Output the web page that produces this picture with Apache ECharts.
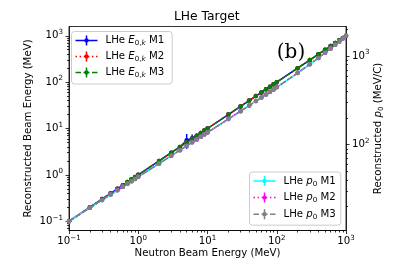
<!DOCTYPE html>
<html><head><meta charset="utf-8">
<script src="https://cdn.jsdelivr.net/npm/echarts@6/dist/echarts.min.js"></script>
<style>html,body{margin:0;padding:0;background:#fff}#c{width:407px;height:271px}</style>
</head><body><div id="c"></div>
<script>
// ---- data ----
const energies = [0.1,0.2,0.3,0.4,0.5,0.6,0.7,0.8,0.9,1,2,3,4,5,6,7,8,9,10,20,30,40,50,60,70,80,90,100,200,300,400,500,600,700,800,900,1000];
const eM1 = [0.1,0.2,0.3,0.4,0.5,0.6,0.7,0.8,0.9,1,2,3,4,5.6,6.2,7,8,9,10,20,30,40,50,60,70,80,90,100,200,300,400,500,600,700,800,900,1000];
const eM1Err = [0,0,0,0,0,0,0,0,0,0,0,0,0,2.0,1.2,0,0,0,0,0,0,0,0,0,0,0,0,0,0,0,0,0,0,0,0,0,0];
const eM2 = [0.1,0.2,0.3,0.4,0.5,0.6,0.7,0.8,0.9,1,2,3,4,5,6,7,8,9,10,20,30,40,50,60,70,80,90,100,200,300,400,500,600,700,800,900,1000];
const eM3 = [0.1,0.2,0.3,0.4,0.5,0.6,0.7,0.8,0.9,1,2,3,4,5,6,7,8,9,10,20,30,40,50,60,70,80,90,100,200,300,400,500,600,700,800,900,1000];
const pM1 = [13.7,19.4,23.7,27.4,30.6,33.5,36.2,38.7,41.1,43.3,61.2,75.0,86.7,96.9,106.2,114.7,122.7,130.2,137.3,194.6,239.0,276.7,310.2,340.7,368.9,395.4,420.4,444.3,644.1,807.6,953.7,1089.4,1218.2,1342.1,1462.3,1579.7,1694.8];
const pM2 = [13.7,19.4,23.8,27.4,30.7,33.6,36.3,38.8,41.1,43.4,61.3,75.1,86.8,97.1,106.4,114.9,122.9,130.4,137.5,194.9,239.3,277.1,310.6,341.1,369.4,395.9,421.0,444.9,644.9,808.5,954.8,1090.7,1219.6,1343.7,1464.0,1581.5,1696.8];
const pM3 = [13.7,19.4,23.8,27.4,30.7,33.6,36.3,38.8,41.1,43.4,61.3,75.1,86.8,97.1,106.4,114.9,122.9,130.4,137.5,194.9,239.3,277.1,310.6,341.1,369.4,395.9,421.0,444.9,644.9,808.5,954.8,1090.7,1219.6,1343.7,1464.0,1581.5,1696.8];
const xTickValues = [0.1,1,10,100,1000];
const yLeftTickValues = [0.1,1,10,100,1000];
const yRightTickValues = [100,1000];
// axis ranges (decade exponents)
const xRange = [-1, 3];
const yLeftRange = [-1.2, 3.2];
const yRightRange = [1.0324, 3.3342];

const L = Math.log10;
function minorTicks(range) {
  const out = [];
  for (let n = Math.floor(range[0]) - 1; n <= Math.ceil(range[1]); n++) {
    for (let k = 2; k <= 9; k++) {
      const v = L(k) + n;
      if (v > range[0] && v < range[1]) out.push(v);
    }
  }
  return out;
}
const FONT = 'DejaVu Sans';
const FS = 10.2;
const supRich = {
  b: {fontSize: FS, fontFamily: FONT, color: '#000', lineHeight: 14},
  s: {fontSize: 7.1, fontFamily: FONT, color: '#000', lineHeight: 7, padding: [0,0,7,0]}
};
function powLabel(v) {
  const e = Math.round(v);
  return '{b|10}{s|' + (e < 0 ? '\u2212' + (-e) : e) + '}';
}
const subRich = {
  t0: {fontSize: FS, fontFamily: FONT, color: '#000', lineHeight: 13, padding: [0,0,0,3]},
  t: {fontSize: FS, fontFamily: FONT, color: '#000', lineHeight: 13},
  i: {fontSize: FS, fontFamily: FONT, fontStyle: 'italic', color: '#000', lineHeight: 13},
  s: {fontSize: 7.1, fontFamily: FONT, color: '#000', lineHeight: 7, padding: [6,0,0,0]},
  si: {fontSize: 7.1, fontFamily: FONT, fontStyle: 'italic', color: '#000', lineHeight: 7, padding: [6,0,0,0]}
};
const legendText = {
  E1: '{t0|LHe }{i|E}{s|0,}{si|k}{t| M1}',
  E2: '{t0|LHe }{i|E}{s|0,}{si|k}{t| M2}',
  E3: '{t0|LHe }{i|E}{s|0,}{si|k}{t| M3}',
  P1: '{t0|LHe }{i|p}{s|0}{t| M1}',
  P2: '{t0|LHe }{i|p}{s|0}{t| M2}',
  P3: '{t0|LHe }{i|p}{s|0}{t| M3}'
};
const BAR = 'M10.25 1H11.75V11H10.25Z M8.8 6A2.2 2.2 0 1 1 13.2 6A2.2 2.2 0 1 1 8.8 6Z';
const ICON_SOLID = 'path://M0 5.25H22V6.75H0Z ' + BAR;
const ICON_DOT = 'path://M0 5.25h1.5v1.5h-1.5Z M4.1 5.25h1.5v1.5h-1.5Z M8.2 5.25h1.5v1.5h-1.5Z M12.3 5.25h1.5v1.5h-1.5Z M16.4 5.25h1.5v1.5h-1.5Z M20.5 5.25h1.5v1.5h-1.5Z ' + BAR;
const ICON_DASH = 'path://M0 5.25H5.5V6.75H0Z M8 5.25H14V6.75H8Z M16.5 5.25H22V6.75H16.5Z ' + BAR;

function pts(xs, ys) { return xs.map((x, i) => [L(x), L(ys[i])]); }
const errData = [];
energies.forEach((x, i) => { if (eM1Err[i] > 0) errData.push([L(x), L(eM1[i] - eM1Err[i]), L(eM1[i] + eM1Err[i])]); });

function lineSeries(name, ys, color, dash, yIdx) {
  return {
    name, type: 'line', xAxisIndex: 0, yAxisIndex: yIdx, data: pts(energies, ys),
    symbol: 'circle', symbolSize: 4.5, showSymbol: true, silent: true,
    itemStyle: {color, borderWidth: 0},
    lineStyle: {color, width: 1.5, type: dash, cap: 'butt'},
    emphasis: {disabled: true}
  };
}
const axisLineStyle = {color: '#000', width: 0.8};
function majorAxis(position, range, ticks, extra) {
  const vals = ticks.map(L);
  return Object.assign({
    type: 'value', position, min: range[0], max: range[1],
    axisLine: {show: true, onZero: false, lineStyle: axisLineStyle},
    axisTick: {show: true, inside: false, length: 3.5, lineStyle: axisLineStyle, customValues: vals},
    axisLabel: {show: true, customValues: vals, formatter: powLabel, rich: supRich, color: '#000', fontFamily: FONT, fontSize: FS},
    splitLine: {show: false}, minorTick: {show: false}
  }, extra || {});
}
function minorAxis(position, range) {
  return {
    type: 'value', position, min: range[0], max: range[1],
    axisLine: {show: false, onZero: false},
    axisTick: {show: true, inside: false, length: 2, lineStyle: axisLineStyle, customValues: minorTicks(range)},
    axisLabel: {show: false}, splitLine: {show: false}
  };
}

const chart = echarts.init(document.getElementById('c'), null, {renderer: 'canvas'});
chart.setOption({
  animation: false,
  backgroundColor: '#fff',
  title: {text: 'LHe Target', left: 174, top: 10.5, padding: 0,
    textStyle: {fontSize: 12.3, fontWeight: 'normal', fontFamily: FONT, color: '#000'}},
  grid: {left: 69, right: 61, top: 26.5, bottom: 40.5, show: true, borderColor: '#000', borderWidth: 0.8,
    backgroundColor: 'transparent', containLabel: false, outerBoundsMode: 'none'},
  xAxis: [
    majorAxis('bottom', xRange, xTickValues, {
      name: 'Neutron Beam Energy (MeV)', nameLocation: 'middle', nameGap: 18, nameMoveOverlap: false,
      nameTextStyle: {fontSize: FS, fontFamily: FONT, color: '#000'},
      axisLabel: {show: true, customValues: xTickValues.map(L), formatter: powLabel, rich: supRich, margin: 4, verticalAlign: 'top', color: '#000', fontFamily: FONT, fontSize: FS}
    }),
    minorAxis('bottom', xRange)
  ],
  yAxis: [
    majorAxis('left', yLeftRange, yLeftTickValues, {
      name: 'Reconstructed Beam Energy (MeV)', nameLocation: 'middle', nameGap: 36, nameRotate: 90, nameMoveOverlap: false,
      nameTextStyle: {fontSize: FS, fontFamily: FONT, color: '#000'},
      axisLabel: {show: true, customValues: yLeftTickValues.map(L), formatter: powLabel, rich: supRich, margin: 6, color: '#000', fontFamily: FONT, fontSize: FS}
    }),
    minorAxis('left', yLeftRange),
    majorAxis('right', yRightRange, yRightTickValues, {
      name: '{t|Reconstructed }{i|p}{s|0}{t| (MeV/C)}', nameLocation: 'middle', nameGap: 26, nameRotate: 90, nameMoveOverlap: false,
      nameTextStyle: {fontSize: FS, fontFamily: FONT, color: '#000', rich: subRich},
      axisLabel: {show: true, customValues: yRightTickValues.map(L), formatter: powLabel, rich: supRich, margin: 6, color: '#000', fontFamily: FONT, fontSize: FS}
    }),
    minorAxis('right', yRightRange)
  ],
  legend: [
    {data: [{name: 'E1', icon: ICON_SOLID}, {name: 'E2', icon: ICON_DOT}, {name: 'E3', icon: ICON_DASH}],
     orient: 'vertical', left: 71.5, top: 31.5, itemWidth: 22, itemHeight: 12, itemGap: 3,
     padding: [2.5, 8, 5, 4], backgroundColor: 'rgba(255,255,255,0.8)', borderColor: '#cccccc', borderWidth: 1, borderRadius: 3,
     selectedMode: false, itemStyle: {borderWidth: 0},
     formatter: n => legendText[n], textStyle: {fontSize: FS, fontFamily: FONT, color: '#000', rich: subRich}},
    {data: [{name: 'P1', icon: ICON_SOLID}, {name: 'P2', icon: ICON_DOT}, {name: 'P3', icon: ICON_DASH}],
     orient: 'vertical', left: 249.5, top: 172, itemWidth: 22, itemHeight: 12, itemGap: 3.6,
     padding: [2.5, 5, 4.5, 4], backgroundColor: 'rgba(255,255,255,0.8)', borderColor: '#cccccc', borderWidth: 1, borderRadius: 3,
     selectedMode: false, itemStyle: {borderWidth: 0},
     formatter: n => legendText[n], textStyle: {fontSize: FS, fontFamily: FONT, color: '#000', rich: subRich}}
  ],
  graphic: [{type: 'text', x: 291, y: 52.5, silent: true,
    style: {text: '(b)', fontSize: 20, fontFamily: 'DejaVu Serif', align: 'center', verticalAlign: 'middle', fill: '#000'}}],
  series: [
    lineSeries('E1', eM1, '#0000ff', 'solid', 0),
    {type: 'custom', name: 'E1 err', xAxisIndex: 0, yAxisIndex: 0, data: errData, silent: true,
     renderItem: (params, api) => {
       const a = api.coord([api.value(0), api.value(1)]);
       const b = api.coord([api.value(0), api.value(2)]);
       return {type: 'line', shape: {x1: a[0], y1: a[1], x2: b[0], y2: b[1]}, style: {stroke: '#0000ff', lineWidth: 1.5}};
     }},
    lineSeries('E2', eM2, '#ff0000', [1.5, 2.5], 0),
    lineSeries('E3', eM3, '#008000', [5.5, 2.4], 0),
    lineSeries('P1', pM1, '#00ffff', 'solid', 2),
    lineSeries('P2', pM2, '#ff00ff', [1.5, 2.5], 2),
    lineSeries('P3', pM3, '#808080', [5.5, 2.4], 2)
  ]
});
</script></body></html>
